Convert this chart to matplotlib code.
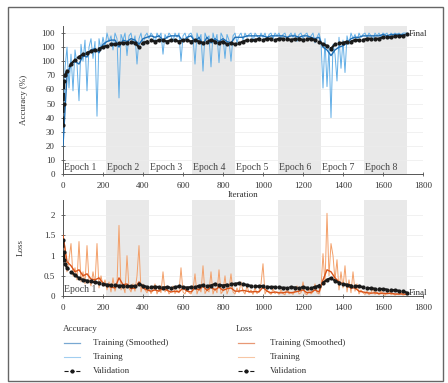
import numpy as np
import matplotlib
matplotlib.use("Agg")
import matplotlib.pyplot as plt
from matplotlib.lines import Line2D
from matplotlib.patches import Rectangle

plt.rcParams['font.family'] = ['Liberation Serif', 'DejaVu Serif']

# ---------------- data ----------------
epoch_edges = [0, 215, 430, 645, 860, 1075, 1290, 1505, 1720]
epoch_labels = ["Epoch 1", "Epoch 2", "Epoch 3", "Epoch 4", "Epoch 5", "Epoch 6", "Epoch 7", "Epoch 8"]

train_iter = np.arange(0, 1721, 10)
acc_train = [
    20, 75, 90, 61, 85, 59, 88, 78, 52, 92, 80, 95, 59, 90, 96, 82, 94, 41, 96, 88, 97, 90,
    100, 94, 98, 88, 100, 96, 54, 99, 95, 100, 84, 98, 100, 92, 98, 78, 96, 100, 91, 98, 100,
    96, 100, 98, 93, 100, 97, 100, 85, 99, 96, 100, 98, 94, 100, 97, 100, 80, 98, 100, 95, 99, 100,
    97, 78, 100, 95, 99, 73, 100, 96, 98, 76, 100, 94, 99, 79, 100, 97, 82, 99, 95, 80, 98,
    100, 93, 98, 100, 95, 100, 97, 99, 100, 94, 100, 98, 96, 100, 97, 100, 95, 99, 100, 96, 100, 98,
    100, 96, 99, 100, 95, 98, 100, 97, 100, 94, 99, 100, 96, 99, 100, 95, 98, 100, 93, 97, 100, 94,
    61, 96, 62, 90, 40, 92, 85, 66, 97, 75, 95, 72, 98, 92, 100, 96, 99, 94, 100, 97, 99,
    100, 97, 100, 98, 95, 100, 98, 100, 97, 100, 99, 100, 96, 100, 98, 100, 99, 100, 98, 100, 100, 100,
]
loss_train = [
    1.5, 1.2, 0.6, 0.9, 1.3, 0.5, 0.7, 0.4, 1.35, 0.35, 0.6, 0.3, 1.25, 0.4, 0.25, 0.6, 0.3, 1.3, 0.2, 0.5, 0.25, 0.4,
    0.15, 0.35, 0.1, 0.45, 0.12, 0.3, 1.75, 0.15, 0.25, 0.08, 1.0, 0.2, 0.1, 0.3, 0.12, 0.5, 1.25, 0.1, 0.3, 0.15, 0.08,
    0.2, 0.06, 0.15, 0.3, 0.05, 0.18, 0.08, 0.6, 0.1, 0.2, 0.05, 0.12, 0.25, 0.06, 0.15, 0.08, 0.7, 0.1, 0.05, 0.2, 0.08, 0.05,
    0.15, 0.55, 0.05, 0.2, 0.1, 0.75, 0.06, 0.15, 0.1, 0.6, 0.05, 0.2, 0.08, 0.65, 0.06, 0.12, 0.5, 0.05, 0.18, 0.55, 0.1,
    0.05, 0.2, 0.08, 0.35, 0.12, 0.05, 0.25, 0.08, 0.15, 0.04, 0.2, 0.06, 0.12, 0.3, 0.8, 0.05, 0.15, 0.08, 0.04, 0.18, 0.06, 0.1,
    0.04, 0.15, 0.06, 0.03, 0.2, 0.05, 0.1, 0.04, 0.12, 0.25, 0.05, 0.08, 0.35, 0.06, 0.03, 0.18, 0.05, 0.1, 0.3, 0.08, 0.05, 0.2,
    1.05, 0.3, 2.05, 0.5, 1.3, 1.0, 0.4, 0.9, 0.15, 0.6, 0.2, 0.75, 0.1, 0.4, 0.08, 0.6, 0.12, 0.3, 0.05, 0.15, 0.08,
    0.04, 0.12, 0.03, 0.08, 0.2, 0.04, 0.1, 0.03, 0.12, 0.05, 0.02, 0.08, 0.15, 0.03, 0.06, 0.02, 0.05, 0.03, 0.08, 0.02, 0.04, 0.03,
]

smooth_iter = np.arange(0, 1721, 20)
acc_smooth = [
    20, 70, 78, 80, 78, 84, 83, 88, 89, 86, 92, 94, 95, 95, 90, 95, 94, 96, 95, 92, 96, 97,
    98, 97, 98, 95, 97, 98, 98, 98, 94, 97, 98, 94, 97, 92, 97, 93, 96, 94, 96, 94, 93,
    97, 97, 97, 98, 98, 98, 98, 98, 97, 98, 98, 98, 98, 97, 98, 98, 97, 98, 98, 97, 96, 97,
    90, 88, 84, 88, 90, 91, 93, 96, 97, 97, 98, 98, 98, 98, 98, 99, 98, 99, 99, 99, 99, 99,
]
loss_smooth = [
    1.5, 0.85, 0.75, 0.6, 0.65, 0.5, 0.55, 0.42, 0.4, 0.45, 0.32, 0.25, 0.22, 0.2, 0.45, 0.28, 0.3, 0.18, 0.2, 0.35, 0.2, 0.15,
    0.12, 0.15, 0.12, 0.2, 0.14, 0.1, 0.12, 0.1, 0.2, 0.12, 0.1, 0.2, 0.15, 0.25, 0.14, 0.22, 0.15, 0.22, 0.14, 0.18, 0.2,
    0.12, 0.12, 0.14, 0.12, 0.1, 0.11, 0.1, 0.22, 0.12, 0.08, 0.1, 0.08, 0.08, 0.1, 0.08, 0.1, 0.12, 0.15, 0.08, 0.09, 0.15, 0.1,
    0.4, 0.65, 0.6, 0.45, 0.35, 0.3, 0.25, 0.2, 0.2, 0.12, 0.1, 0.08, 0.07, 0.08, 0.06, 0.07, 0.06, 0.07, 0.05, 0.05, 0.05, 0.04,
]

val_iter = [0, 3, 6, 10] + list(range(20, 1721, 20))
acc_val = [
    35, 50, 66, 70,
    73, 78, 81, 83, 85, 86, 87, 88, 89, 90, 91, 92, 92, 93, 93, 93, 94, 93, 90, 93, 94,
    95, 94, 95, 95, 94, 95, 95, 94, 95, 95, 94, 95, 94, 93, 94, 95, 94, 93, 94, 92, 93,
    92, 93, 94, 95, 95, 95, 96, 95, 96, 96, 95, 96, 96, 96, 95, 96, 96, 95, 96, 96, 95, 94,
    92, 91, 89, 92, 93, 93, 94, 94, 95, 95, 95, 96, 96, 96, 96, 97, 97, 97, 98, 98, 98, 99,
]
loss_val = [
    1.4, 1.1, 0.9, 0.8,
    0.7, 0.6, 0.52, 0.45, 0.4, 0.38, 0.36, 0.34, 0.33, 0.3, 0.28, 0.27, 0.27, 0.25, 0.26, 0.25, 0.24, 0.25, 0.3, 0.25, 0.23,
    0.22, 0.23, 0.22, 0.21, 0.22, 0.21, 0.22, 0.24, 0.22, 0.21, 0.22, 0.23, 0.25, 0.27, 0.25, 0.26, 0.3, 0.28, 0.26, 0.28, 0.3,
    0.3, 0.32, 0.3, 0.27, 0.25, 0.24, 0.24, 0.25, 0.23, 0.22, 0.23, 0.22, 0.2, 0.21, 0.22, 0.21, 0.2, 0.22, 0.2, 0.21, 0.22, 0.26,
    0.33, 0.4, 0.45, 0.38, 0.33, 0.3, 0.28, 0.26, 0.25, 0.24, 0.22, 0.2, 0.19, 0.18, 0.18, 0.17, 0.16, 0.15, 0.14, 0.13, 0.12, 0.08,
]

acc_yticks = [0, 10, 20, 30, 40, 50, 60, 70, 80, 90, 100]
acc_yticklabels = ["0", "10", "20", "30", "40", "50", "60", "70", "100", "100", "100"]
loss_yticks = [0, 0.5, 1, 1.5, 2]
loss_yticklabels = ["0", "0.5", "1", "1.5", "2"]
xticks = [0, 200, 400, 600, 800, 1000, 1200, 1400, 1600, 1800]

# ---------------- style ----------------
W, H = 448, 383
C_ACC = '#1f6fb5'
C_ACC_RAW = '#62aee6'
C_LOSS = '#D95319'
C_LOSS_RAW = '#f3a06a'
C_VAL = '#1a1a1a'
BAND = '#e9e9e9'
FS = 6.5

fig = plt.figure(figsize=(W / 100, H / 100), dpi=100)

def px(x0, y0, x1, y1):
    return [x0 / W, 1 - y1 / H, (x1 - x0) / W, (y1 - y0) / H]

ax1 = fig.add_axes(px(63, 26, 423, 174))
ax2 = fig.add_axes(px(63, 200, 423, 296))

def style(ax, ylim, yt, ytl):
    ax.set_xlim(0, 1800)
    ax.set_ylim(*ylim)
    for i in range(len(epoch_edges) - 1):
        if i % 2 == 1:
            ax.axvspan(epoch_edges[i], epoch_edges[i + 1], color=BAND, lw=0, zorder=0)
    ax.set_yticks(yt)
    ax.set_yticklabels(ytl)
    ax.set_xticks(xticks)
    ax.set_xticklabels([str(t) for t in xticks])
    ax.grid(axis='y', color='#ececec', lw=0.5, zorder=0.5)
    ax.set_axisbelow(True)
    for s in ['top', 'right']:
        ax.spines[s].set_visible(False)
    for s in ['left', 'bottom']:
        ax.spines[s].set_color('#555555')
        ax.spines[s].set_linewidth(0.7)
    ax.tick_params(direction='inout', length=3.5, width=0.6, colors='#555555',
                   labelsize=FS, labelcolor='#333333', pad=4)

style(ax1, (0, 105), acc_yticks, acc_yticklabels)
style(ax2, (0, 2.38), loss_yticks, loss_yticklabels)

# accuracy
ax1.plot(train_iter, acc_train, color=C_ACC_RAW, lw=0.7, zorder=2)
ax1.plot(smooth_iter, acc_smooth, color=C_ACC, lw=1.0, zorder=3)
ax1.plot(val_iter, acc_val, ls='--', color=C_VAL, lw=1.6, marker='o', ms=2.0,
         mfc=C_VAL, mec=C_VAL, zorder=4)
for i, lab in enumerate(epoch_labels):
    ax1.text(epoch_edges[i] + 6, 1.5, lab, fontsize=7, color='#444444', va='bottom', ha='left', zorder=1)
ax1.text(1728, acc_val[-1], "Final", fontsize=FS, color='#333333', va='center', ha='left')
ax1.set_ylabel("Accuracy (%)", fontsize=FS, color='#333333', labelpad=10)
ax1.set_xlabel("Iteration", fontsize=FS, color='#333333', labelpad=1)

# loss
ax2.plot(train_iter, loss_train, color=C_LOSS_RAW, lw=0.7, zorder=2)
ax2.plot(smooth_iter, loss_smooth, color=C_LOSS, lw=1.0, zorder=3)
ax2.plot(val_iter, loss_val, ls='--', color=C_VAL, lw=1.6, marker='o', ms=2.0,
         mfc=C_VAL, mec=C_VAL, zorder=4)
ax2.text(epoch_edges[0] + 6, 0.04, epoch_labels[0], fontsize=7, color='#444444', va='bottom', ha='left', zorder=1)
ax2.text(1728, loss_val[-1], "Final", fontsize=FS, color='#333333', va='center', ha='left')
ax2.set_ylabel("Loss", fontsize=FS, color='#333333', labelpad=14)

# legend (manual, figure pixel layout)
def fx(x):
    return x / W

def fy(y):
    return 1 - y / H

fig.text(fx(63), fy(329), "Accuracy", fontsize=FS, color='#333333', va='center')
fig.text(fx(236), fy(329), "Loss", fontsize=FS, color='#333333', va='center')
rows = [343, 357, 371]
names = ["Training (Smoothed)", "Training", "Validation"]
for x0, x1, xt, cs, cr in [(64, 80, 93, C_ACC, C_ACC_RAW), (238, 254, 270, C_LOSS, C_LOSS_RAW)]:
    styles = [dict(color=cs, lw=0.9, alpha=0.6), dict(color=cr, lw=0.8, alpha=0.6),
              dict(color=C_VAL, lw=0.8, ls='--', marker='o', ms=2, markevery=[1])]
    for r, nm, st in zip(rows, names, styles):
        fig.add_artist(Line2D([fx(x0), fx((x0 + x1) / 2), fx(x1)], [fy(r)] * 3,
                              transform=fig.transFigure, **st))
        fig.text(fx(xt), fy(r), nm, fontsize=FS, color='#333333', va='center')

# outer frame
fig.add_artist(Rectangle((fx(8), fy(381)), (443 - 8) / W, (381 - 7) / H,
                         transform=fig.transFigure, fill=False, ec='#666666', lw=1.0))

fig.savefig("out.png", dpi=100)
